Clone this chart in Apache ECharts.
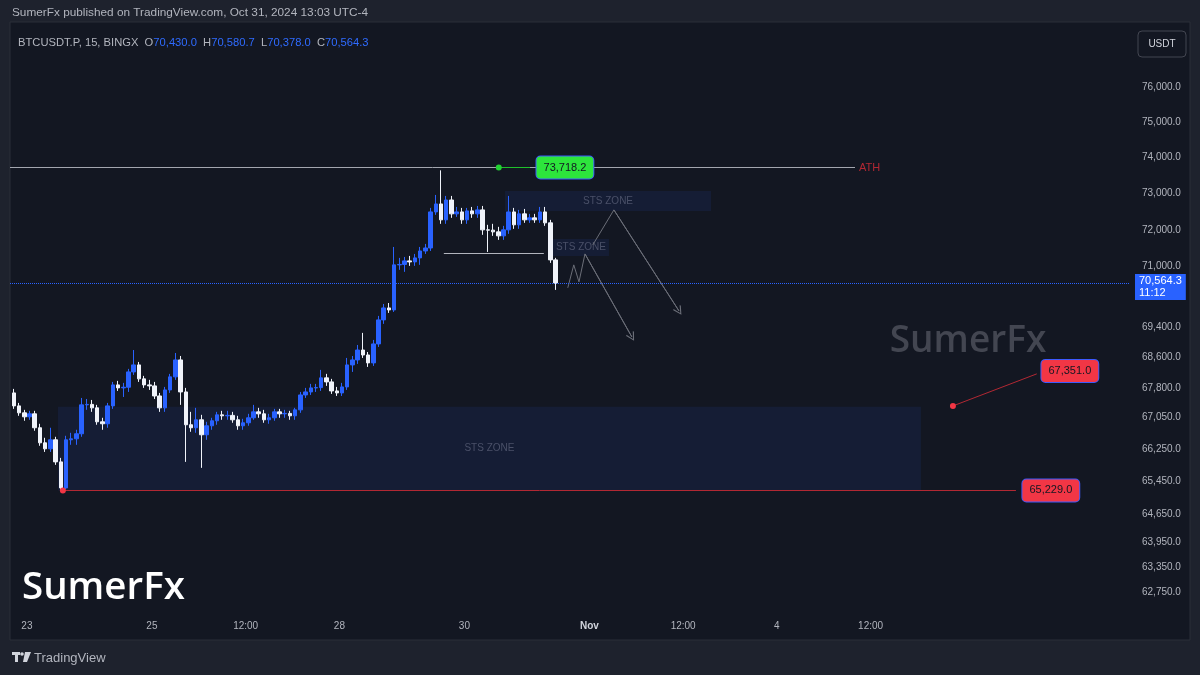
<!DOCTYPE html>
<html><head><meta charset="utf-8">
<script src="https://cdn.jsdelivr.net/npm/echarts@6/dist/echarts.min.js"></script>
<style>html,body{margin:0;padding:0;background:#1e222d;}#c{width:1200px;height:675px;}</style>
</head><body><div id="c"></div>
<script>
// ---------------- DATA ----------------
// candle times: hours relative to Oct 23 00:00 (UTC-4), 2-hour candles
const candleStartHour = -6;
const candleStepHours = 2;
const opens = [67684,67352,67175,67074,67150,66796,66416,66265,66492,65938,
  65291,66492,66517,66644,67378,67390,67302,66947,66897,67352,
  67890,67813,67830,68225,68406,68045,67890,67864,67606,67302,
  67761,68097,68535,67709,66872,66796,66998,66619,66846,66973,
  67124,67099,67110,66998,66846,66922,67049,67200,67150,66998,
  67049,67200,67150,67160,67099,67251,67632,67709,67813,67820,
  68071,67967,67735,67684,67838,68406,68535,68793,68664,68458,
  68952,69583,69899,69846,71049,71060,71156,71129,71237,71424,
  71505,72489,72708,72271,72817,72435,72489,72271,72517,72435,
  72544,71998,71990,71943,71834,71998,72489,72135,72435,72271,
  72326,72271,72489,72189,71183];
const closes = [67352,67175,67074,67150,66796,66416,66265,66492,65938,65291,
  66492,66517,66644,67378,67390,67302,66947,66897,67352,67890,
  67813,67830,68225,68406,68045,67890,67864,67606,67302,67761,
  68097,68535,67709,66872,66796,66998,66619,66846,66973,67124,
  67099,67110,66998,66846,66922,67049,67200,67150,66998,67049,
  67200,67150,67160,67099,67251,67632,67709,67813,67820,68071,
  67967,67735,67684,67838,68406,68535,68793,68664,68458,68952,
  69583,69899,69846,71049,71060,71156,71129,71237,71424,71505,
  72489,72708,72271,72817,72435,72489,72271,72517,72435,72544,
  71998,71990,71943,71834,71998,72489,72135,72435,72271,72326,
  72271,72489,72189,71183,70564.3];
const highs = [67787,67428,67251,67226,67226,66897,66543,66796,66568,66038,
  66593,66669,66745,67555,67529,67504,67378,67049,67428,67967,
  67993,67942,68303,68793,68483,68122,68019,67967,67684,67838,
  68174,68716,68638,67813,67200,67302,67124,66947,67049,67200,
  67226,67226,67200,67099,67023,67150,67378,67302,67251,67150,
  67276,67276,67251,67226,67302,67709,67813,67916,67916,68277,
  68174,68045,67838,67942,68587,68638,68925,69241,68741,69057,
  69688,70004,70030,71533,71237,71263,71290,71344,71533,71615,
  72599,72957,73640,72929,72929,72626,72599,72599,72626,72653,
  72653,72135,72162,72080,72107,72929,72599,72544,72571,72435,
  72435,72626,72626,72271,71237];
const lows = [67276,67099,66973,66998,66720,66341,66187,66187,65864,65229,
  65260,66366,66366,66568,67251,67200,66872,66745,66796,67276,
  67735,67580,67709,68148,67967,67813,67761,67529,67200,67200,
  67684,68019,67378,65938,66694,66669,65789,66492,66745,66872,
  66998,66998,66922,66745,66745,66846,66998,67049,66922,66897,
  66973,67049,67049,66998,66998,67175,67555,67632,67709,67735,
  67864,67658,67606,67606,67761,68225,68432,68587,68354,68380,
  68873,69478,69767,69793,70915,70861,71022,71022,71049,71344,
  71424,72408,72162,72162,72326,72353,72162,72162,72326,72326,
  71862,71397,71834,71725,71725,71889,72025,72025,72189,72189,
  72189,72189,72107,71102,70378];

const priceTicks = [76000,75000,74000,73000,72000,71000,69400,68600,67800,67050,66250,65450,64650,63950,63350,62750];
const timeTickHours = [0,48,84,120,168,216,252,288,324];
const timeTickLabels = ['23','25','12:00','28','30','Nov','12:00','4','12:00'];

const lastPrice = 70564.3;
const lastTimer = '11:12';
const athPrice = 73718.2;
const lowPrice = 65229.0;
const targetPrice = 67351.0;
const legendOHLC = [70430.0, 70580.7, 70378.0, 70564.3];

const zoneHours = [[11.9, 343.3],[183.6, 262.7],[202, 223.5]];
const zonePrices = [[67330, 65229],[73068, 72517],[71752, 71290]];
const zoneLabels = ['STS ZONE','STS ZONE','STS ZONE'];

const athLineHours = [-6.5, 318];
const athMarkHours = [181.2, 193.2];
const athLabelHour = 206.6;
const supportHours = [160.1, 198.5];
const supportPrice = 71371;
const lowLineHours = [13.8, 379.8];
const lowLabelHour = 393.2;
const targetHours = [355.6, 387.8];
const targetPrices = [67351.0, 68174];
const targetLabelPoint = [400.5, 68251];

const pathAHours = [207.7, 210.0, 212.0, 214.3, 232.3];
const pathAPrices = [70433, 71049, 70593, 71344, 69136];
const pathBHours = [217.3, 225.4, 250.4];
const pathBPrices = [71588, 72544, 69820];

// ---------------- CHART ----------------
const FONT = "'Liberation Sans', Arial, sans-serif";
const fmt = v => Number(v).toLocaleString('en-US',{minimumFractionDigits:1, maximumFractionDigits:1});
const candleData = opens.map((o,i)=>[candleStartHour + candleStepHours*i + candleStepHours/2, o, closes[i], lows[i], highs[i]]);
const zip = (xs, ys) => xs.map((x,i)=>[x, ys[i]]);
const chevron = 'path://M5,0 L10,9 L9,10 L5,2.4 L1,10 L0,9 Z';

function pathSeries(hours, prices){
  const pts = zip(hours, prices);
  const n = pts.length;
  return {
    type:'line', data: pts, showSymbol:false, silent:true,
    lineStyle:{color:'#6b6e78', width:1}, z:4,
    markLine:{ silent:true, symbol:['none', chevron], symbolSize:[9,9], lineStyle:{color:'#6b6e78', width:1, type:'solid'}, label:{show:false},
      data:[[{coord:pts[n-2]},{coord:pts[n-1]}]] }
  };
}

const labelBox = (bg) => ({show:true, position:'inside', backgroundColor:bg, borderColor:'#3d5afe', borderWidth:1, borderRadius:4,
  padding:[6,7,5,7], color:'#131722', fontSize:11, fontFamily:FONT});

const LF = '11.2px '+FONT;
const legendText = '{g|BTCUSDT.P, 15, BINGX}  ' + ['O','H','L','C'].map((k,i)=>'{g|'+k+'}{b|'+fmt(legendOHLC[i])+'}').join('  ');

const chart = echarts.init(document.getElementById('c'));
chart.setOption({
  animation:false,
  backgroundColor:'#1e222d',
  grid:{left:10, right:70, top:23, bottom:63},
  xAxis:{type:'value', min:-6.5, max:423.6,
    axisLine:{show:false}, axisTick:{show:false}, splitLine:{show:false},
    axisLabel:{customValues:timeTickHours, margin:9, color:'#b2b5be', fontSize:10, fontFamily:FONT,
      formatter:v=>{const l = timeTickLabels[timeTickHours.indexOf(Math.round(v))]; return l==='Nov' ? '{b|Nov}' : l;},
      rich:{b:{fontWeight:'bold', color:'#d1d4dc', fontSize:10, fontFamily:FONT}}}
  },
  yAxis:{type:'log', logBase:10, position:'right', min:62292, max:77868,
    axisLine:{show:false}, axisTick:{show:false}, splitLine:{show:false},
    axisLabel:{customValues:priceTicks, margin:12, color:'#b2b5be', fontSize:10, fontFamily:FONT,
      formatter:v=>fmt(Math.round(v))}
  },
  graphic:[
    {type:'rect', z:-10, shape:{x:10, y:22, width:1180, height:618}, style:{fill:'#131722', stroke:'#2a2e39', lineWidth:1}},
    {type:'text', x:12, y:13, style:{text:'SumerFx published on TradingView.com, Oct 31, 2024 13:03 UTC-4', fill:'#b2b5be', font:'11.8px '+FONT, verticalAlign:'middle'}},
    {type:'text', x:18, y:43, style:{text:legendText, verticalAlign:'middle', font:LF,
      rich:{g:{fill:'#b2b5be', font:LF}, b:{fill:'#2f6bff', font:LF}}}},
    {type:'rect', shape:{x:1138, y:31, width:48, height:26, r:4}, style:{fill:'none', stroke:'#434651', lineWidth:1}},
    {type:'text', x:1162, y:44, style:{text:'USDT', fill:'#d1d4dc', font:'10px '+FONT, align:'center', verticalAlign:'middle'}},
    {type:'text', x:968, y:341, z:1, style:{text:'SumerFx', fill:'#434651', font:'600 37px "Open Sans", sans-serif', align:'center', verticalAlign:'middle'}},
    {type:'text', x:22, y:588, z:20, style:{text:'SumerFx', fill:'#ffffff', font:'600 38.5px "Open Sans", sans-serif', verticalAlign:'middle'}},
    {type:'group', x:12, y:652, children:[
      {type:'rect', shape:{x:0, y:0, width:8, height:3}, style:{fill:'#d1d4dc'}},
      {type:'rect', shape:{x:3, y:0, width:3, height:10}, style:{fill:'#d1d4dc'}},
      {type:'circle', shape:{cx:10, cy:2, r:1.8}, style:{fill:'#d1d4dc'}},
      {type:'polygon', shape:{points:[[13,0],[19,0],[15,10],[11,10]]}, style:{fill:'#d1d4dc'}}
    ]},
    {type:'text', x:34, y:658, style:{text:'TradingView', fill:'#b2b5be', font:'13px '+FONT, verticalAlign:'middle'}}
  ],
  series:[
    {type:'candlestick', name:'BTCUSDT.P', data:candleData, encode:{x:0, y:[1,2,3,4]}, barWidth:4, z:5,
      itemStyle:{color:'#2962ff', color0:'#f0f3fa', borderColor:'#2962ff', borderColor0:'#f0f3fa', borderWidth:1},
      markArea:{silent:true, itemStyle:{color:'rgba(41,98,255,0.09)'},
        label:{show:true, position:'inside', color:'#4a5068', fontSize:10, fontFamily:FONT},
        data: zoneHours.map((h,i)=>[{name:zoneLabels[i], coord:[h[0], zonePrices[i][0]]},{coord:[h[1], zonePrices[i][1]]}])},
      markLine:{silent:true, symbol:['none','none'],
        data:[
          [{coord:[-6.5, lastPrice], lineStyle:{color:'#2962ff', type:'dotted', width:1},
            label:{show:true, position:'end', distance:5, offset:[0,4], formatter:fmt(lastPrice)+'\n'+lastTimer, backgroundColor:'#2962ff', color:'#ffffff',
              fontSize:11, fontFamily:FONT, lineHeight:12, padding:[1,4,1,4], align:'left'}},
           {coord:[423.6, lastPrice]}],
          [{coord:[athLineHours[0], athPrice], lineStyle:{color:'#a3a6af', type:'solid', width:1},
            label:{show:true, position:'end', distance:4, formatter:'ATH', color:'#b22833', fontSize:11, fontFamily:FONT}},
           {coord:[athLineHours[1], athPrice]}],
          [{coord:[supportHours[0], supportPrice], lineStyle:{color:'#b2b5be', type:'solid', width:1}, label:{show:false}},
           {coord:[supportHours[1], supportPrice]}],
          [{coord:[lowLineHours[0], lowPrice], lineStyle:{color:'#b22833', type:'solid', width:1}, label:{show:false}},
           {coord:[lowLineHours[1], lowPrice]}],
          [{coord:[athMarkHours[0], athPrice], lineStyle:{color:'#1fbf2b', type:'solid', width:1}, label:{show:false}},
           {coord:[athMarkHours[1], athPrice]}],
          [{coord:[targetHours[0], targetPrices[0]], lineStyle:{color:'#b22833', type:'solid', width:1}, label:{show:false}},
           {coord:[targetHours[1], targetPrices[1]]}]
        ]}
    },
    pathSeries(pathAHours, pathAPrices),
    pathSeries(pathBHours, pathBPrices),
    {type:'scatter', silent:true, z:8, symbolSize:6, itemStyle:{opacity:1},
      data:[
        {value:[athMarkHours[0], athPrice], itemStyle:{color:'#22d233', opacity:1}},
        {value:[lowLineHours[0], lowPrice], itemStyle:{color:'#f23645', opacity:1}},
        {value:[targetHours[0], targetPrices[0]], itemStyle:{color:'#f23645', opacity:1}}
      ]},
    {type:'scatter', silent:true, z:9, symbolSize:1, itemStyle:{color:'rgba(0,0,0,0)', opacity:1},
      data:[
        {value:[athLabelHour, athPrice], label:Object.assign(labelBox('#2de53c'), {formatter:fmt(athPrice)})},
        {value:[lowLabelHour, lowPrice], label:Object.assign(labelBox('#f23645'), {formatter:fmt(lowPrice)})},
        {value:targetLabelPoint, label:Object.assign(labelBox('#f23645'), {formatter:fmt(targetPrice)})}
      ]}
  ]
});
</script></body></html>
